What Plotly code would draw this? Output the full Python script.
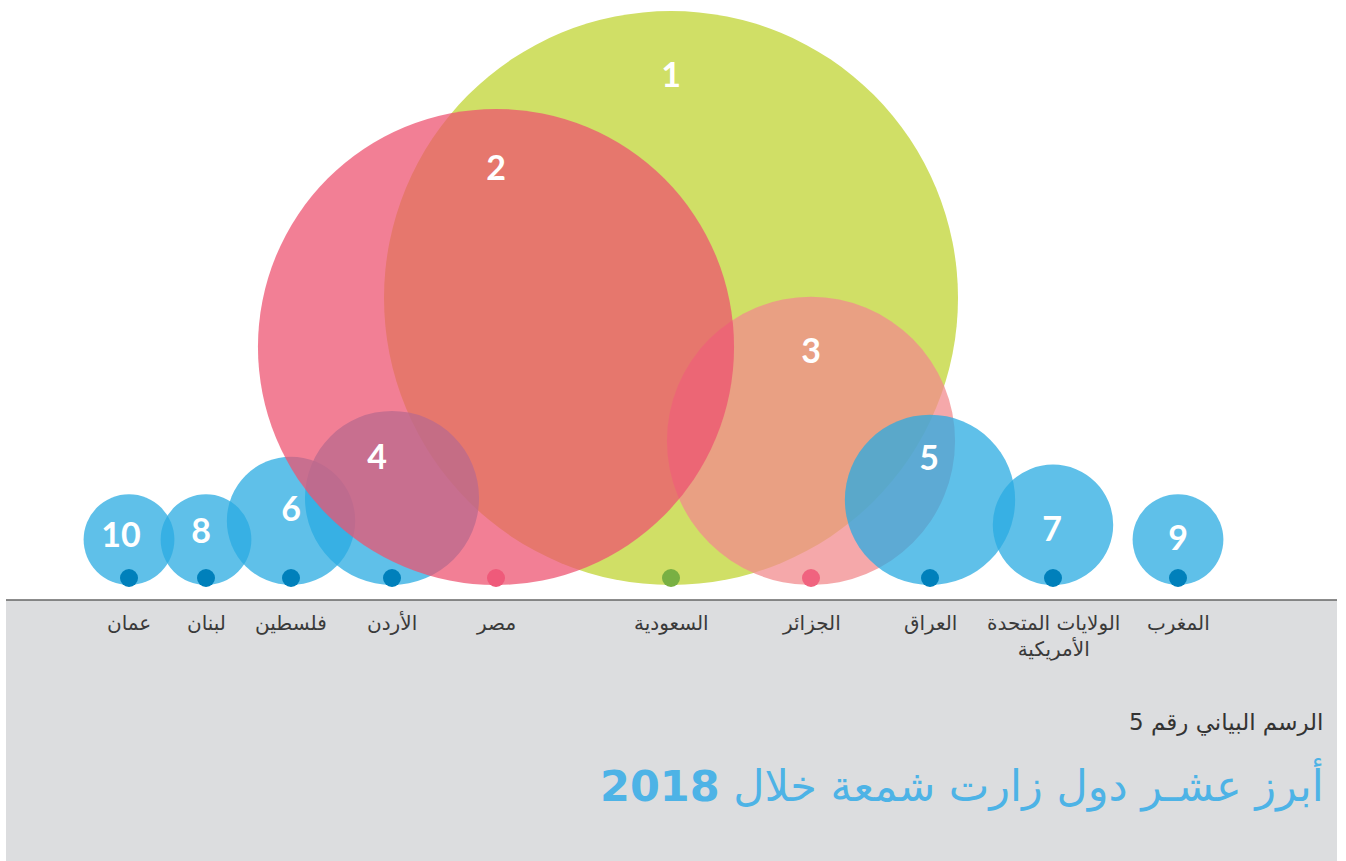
import plotly.graph_objects as go
import math

# ---------------- data (ranked 1..10) ----------------
ranks = [1, 2, 3, 4, 5, 6, 7, 8, 9, 10]
countries = ["السعودية", "مصر", "الجزائر", "الأردن", "العراق",
             "فلسطين", "الولايات المتحدة<br>الأمريكية", "لبنان", "المغرب", "عمان"]
# relative size of each country's visits (index, top country = 100)
values = [100, 68.8, 25.2, 9.2, 8.8, 5.0, 4.4, 2.5, 2.5, 2.5]

subtitle = "الرسم البياني رقم 5"
title = "أبرز عشـر دول زارت شمعة خلال <b>2018</b>"

# ---------------- layout / styling ----------------
W, H = 1346, 861
BASE = 600                 # pixel row of the baseline
R_MAX = 287                # radius of the largest bubble (px)
GAP = 15                   # gap between bubble bottom and baseline
slot_x = [671, 496, 811, 392, 930, 291, 1053, 206, 1178, 129]   # horizontal slot per rank
label_off = [(0, 220), (0, 175), (0, 86), (-15, 37), (-1, 38),
             (0, 8), (-1, -8), (-5, 5), (0, -2), (-8, 1)]

fill = {
    1: ("rgba(208,223,102,1)", "#78b043"),
    2: ("rgba(237,82,112,0.74)", "#ef5a7a"),
    3: ("rgba(242,139,142,0.75)", "#f0637f"),
}
blue_fill, blue_dot = "rgba(41,171,226,0.75)", "#0080bb"
draw_order = [1, 3, 4, 5, 6, 7, 8, 9, 10, 2]

radii = [R_MAX * math.sqrt(v / 100.0) for v in values]
cy = [r + GAP for r in radii]

shapes = [
    dict(type="rect", xref="x", yref="y", x0=6, x1=1337, y0=-(H - BASE), y1=0,
         fillcolor="#dcdddf", line=dict(width=0), layer="below"),
    dict(type="line", xref="x", yref="y", x0=6, x1=1337, y0=0, y1=0,
         line=dict(color="#666666", width=1.5), layer="below"),
]
for rk in draw_order:
    i = rk - 1
    col = fill.get(rk, (blue_fill, blue_dot))[0]
    shapes.append(dict(type="circle", xref="x", yref="y",
                       x0=slot_x[i] - radii[i], x1=slot_x[i] + radii[i],
                       y0=cy[i] - radii[i], y1=cy[i] + radii[i],
                       fillcolor=col, line=dict(width=0), layer="below"))

fig = go.Figure()

# baseline dots
fig.add_trace(go.Scatter(
    x=slot_x, y=[GAP + 7] * len(ranks), mode="markers",
    marker=dict(size=18, color=[fill.get(r, (blue_fill, blue_dot))[1] for r in ranks],
                line=dict(width=0)),
    hoverinfo="skip", showlegend=False))

# rank numbers
fig.add_trace(go.Scatter(
    x=[slot_x[i] + label_off[i][0] for i in range(len(ranks))],
    y=[cy[i] + label_off[i][1] for i in range(len(ranks))],
    mode="text", text=[str(r) for r in ranks],
    textfont=dict(family="Lato, Open Sans, sans-serif", size=34, color="white", weight="bold"),
    hoverinfo="skip", showlegend=False))

annotations = []
for i, name in enumerate(countries):
    annotations.append(dict(x=slot_x[i], y=-9, xref="x", yref="y", text=name,
                            showarrow=False, xanchor="center", yanchor="top",
                            font=dict(family="DejaVu Sans", size=20, color="#3a3a3a")))
annotations.append(dict(x=1326, y=BASE - 722, xref="x", yref="y", text=subtitle,
                        showarrow=False, xanchor="right", yanchor="middle",
                        font=dict(family="DejaVu Sans", size=23, color="#333333")))
annotations.append(dict(x=1326, y=BASE - 785, xref="x", yref="y", text=title,
                        showarrow=False, xanchor="right", yanchor="middle",
                        font=dict(family="DejaVu Sans", size=43, color="#4db3e6")))

fig.update_layout(
    width=W, height=H, margin=dict(l=0, r=0, t=0, b=0),
    paper_bgcolor="white", plot_bgcolor="white",
    xaxis=dict(range=[0, W], visible=False, fixedrange=True),
    yaxis=dict(range=[BASE - H, BASE], visible=False, fixedrange=True),
    shapes=shapes, annotations=annotations, showlegend=False,
)

fig.write_html("out.html", config={"displayModeBar": False},
               post_script="document.body.style.margin='0';")
